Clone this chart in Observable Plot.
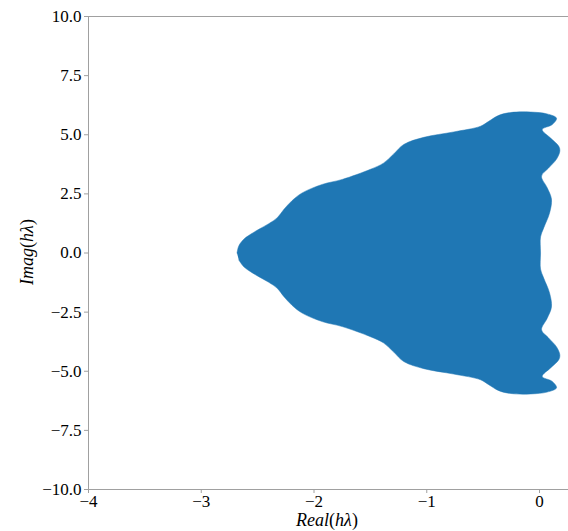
<!DOCTYPE html>
<html>
<head>
<meta charset="utf-8">
<script src="https://cdn.jsdelivr.net/npm/d3@7"></script>
<script src="https://cdn.jsdelivr.net/npm/@observablehq/plot@0.6"></script>
<style>
  html, body { margin: 0; padding: 0; background: #fff; }
  #chart svg { display: block; }
</style>
</head>
<body>
<div id="chart"></div>
<script>
// Upper half of the stability boundary (real, imag), traced from left tip around to the real axis at right
const upperRe = [-2.683, -2.667, -2.623, -2.563, -2.490, -2.401, -2.326, -2.268, -2.193, -2.105,
                 -1.927, -1.750, -1.499, -1.384, -1.295, -1.204, -1.026, -0.760, -0.523, -0.450,
                 -0.361, -0.257, -0.080, 0.068, 0.151, 0.113, 0.024, 0.098, 0.171, 0.180,
                 0.151, 0.080, 0.018, 0.068, 0.106, 0.089, 0.038, 0.009, 0.009];
const upperIm = [0.00, 0.30, 0.58, 0.79, 1.00, 1.24, 1.49, 1.84, 2.22, 2.54,
                 2.90, 3.11, 3.54, 3.80, 4.18, 4.59, 4.89, 5.12, 5.36, 5.57,
                 5.82, 5.94, 5.96, 5.88, 5.70, 5.43, 5.22, 4.86, 4.51, 4.30,
                 3.97, 3.59, 3.25, 2.76, 2.28, 1.69, 1.07, 0.68, 0.00];
const xTicks = [-4, -3, -2, -1, 0];
const yTicks = [-10, -7.5, -5, -2.5, 0, 2.5, 5, 7.5, 10];
const xDomain = [-4, 0.257];
const yDomain = [-10, 10];

// closed polygon: upper half then mirrored lower half
const poly = [];
for (let i = 0; i < upperRe.length; i++) poly.push({re: upperRe[i], im: upperIm[i]});
for (let i = upperRe.length - 2; i >= 1; i--) poly.push({re: upperRe[i], im: -upperIm[i]});

const blue = "#1f77b4";
const gray = "#a0a0a0";
const font = "'Liberation Serif', 'DejaVu Serif', serif";

const chart = Plot.plot({
  width: 568,
  height: 531,
  marginLeft: 88,
  marginRight: 0,
  marginTop: 16,
  marginBottom: 42,
  style: {fontFamily: font, fontSize: "17px", color: "#000", background: "#fff"},
  x: {domain: xDomain, label: null},
  y: {domain: yDomain, label: null},
  marks: [
    Plot.line(poly, {x: "re", y: "im", fill: blue, stroke: blue, strokeWidth: 0.5, curve: "catmull-rom"}),
    Plot.ruleY([yDomain[1]], {stroke: gray, strokeWidth: 1}),
    Plot.ruleY([yDomain[0]], {stroke: gray, strokeWidth: 1}),
    Plot.ruleX([xDomain[0]], {stroke: gray, strokeWidth: 1}),
    Plot.axisX({ticks: xTicks, tickSize: 4, tickPadding: 1, stroke: gray, fill: "#000",
                tickFormat: d3.format("d"), fontSize: 17, label: null}),
    Plot.axisY({ticks: yTicks, tickSize: 4, tickPadding: 3, stroke: gray, fill: "#000",
                tickFormat: d3.format(".1f"), fontSize: 17, label: null})
  ]
});

const ns = "http://www.w3.org/2000/svg";
function mathLabel(parts, x, y, rotate) {
  const t = document.createElementNS(ns, "text");
  t.setAttribute("text-anchor", "middle");
  t.setAttribute("font-size", "18");
  t.setAttribute("font-family", font);
  t.setAttribute("fill", "#000");
  t.setAttribute("transform", `translate(${x},${y})` + (rotate ? " rotate(-90)" : ""));
  for (const [s, it] of parts) {
    const sp = document.createElementNS(ns, "tspan");
    sp.textContent = s;
    if (it) sp.setAttribute("font-style", "italic");
    t.appendChild(sp);
  }
  chart.appendChild(t);
}
mathLabel([["Real", true], ["(", false], ["hλ", true], [")", false]], 327, 526, false);
mathLabel([["Imag", true], ["(", false], ["hλ", true], [")", false]], 33, 252, true);

document.getElementById("chart").appendChild(chart);
</script>
</body>
</html>
